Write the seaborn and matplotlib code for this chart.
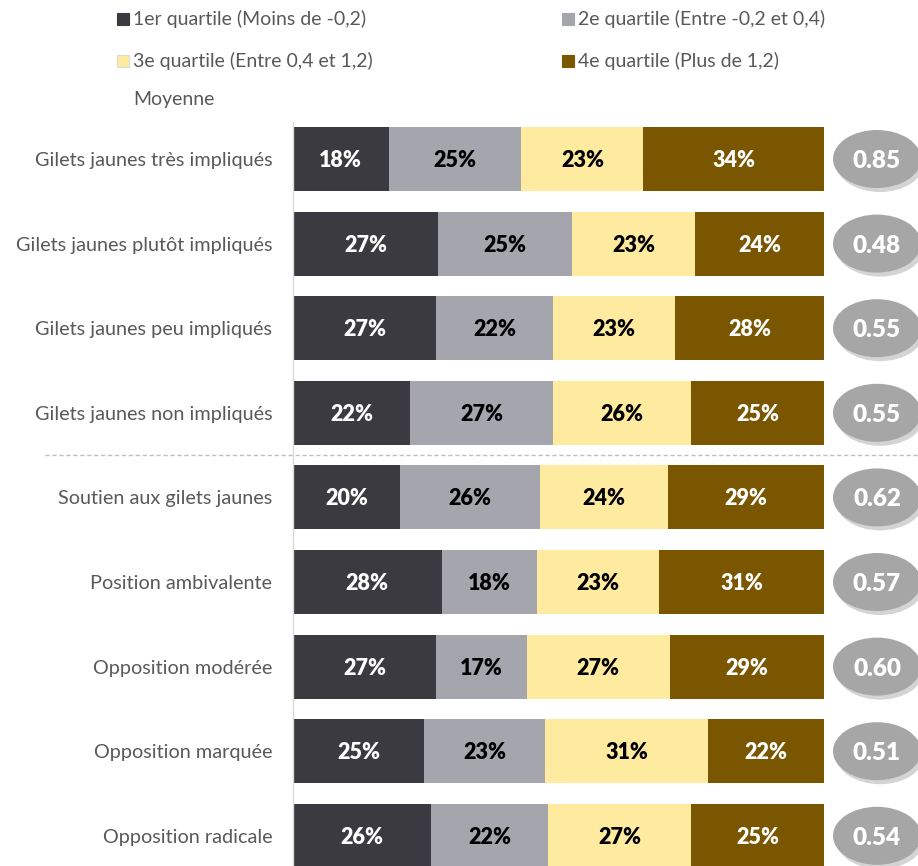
import pandas as pd
import numpy as np
import matplotlib.pyplot as plt
import seaborn as sns
from matplotlib.patches import Ellipse, Rectangle

sns.set_style("white")
plt.rcParams['font.family'] = ['Lato', 'DejaVu Sans']

# donnees
categories = [
    "Gilets jaunes très impliqués",
    "Gilets jaunes plutôt impliqués",
    "Gilets jaunes peu impliqués",
    "Gilets jaunes non impliqués",
    "Soutien aux gilets jaunes",
    "Position ambivalente",
    "Opposition modérée",
    "Opposition marquée",
    "Opposition radicale",
]
q1 = [18, 27, 27, 22, 20, 28, 27, 25, 26]
q2 = [25, 25, 22, 27, 26, 18, 17, 23, 22]
q3 = [23, 23, 23, 26, 24, 23, 27, 31, 27]
q4 = [34, 24, 28, 25, 29, 31, 29, 22, 25]
moyenne = [0.85, 0.48, 0.55, 0.55, 0.62, 0.57, 0.60, 0.51, 0.54]

legend_labels = [
    "1er quartile (Moins de -0,2)",
    "2e quartile (Entre -0,2 et 0,4)",
    "3e quartile (Entre 0,4 et 1,2)",
    "4e quartile (Plus de 1,2)",
]
colors = ["#3b3a40", "#a5a5ad", "#ffeba0", "#7a5600"]
text_colors = ["white", "black", "black", "white"]

df = pd.DataFrame({"cat": categories, "q1": q1, "q2": q2, "q3": q3, "q4": q4})
tot = df[["q1", "q2", "q3", "q4"]].sum(axis=1)
for q in ["q1", "q2", "q3", "q4"]:
    df[q + "_s"] = df[q] / tot
df["c1"] = df["q1_s"]
df["c2"] = df["c1"] + df["q2_s"]
df["c3"] = df["c2"] + df["q3_s"]
df["c4"] = df["c3"] + df["q4_s"]

fig = plt.figure(figsize=(9.18, 8.66), dpi=100)
ax = fig.add_axes([293 / 918, 0, 625 / 918, 744 / 866])

px_x = 531.0   # pixels pour 100 %
px_y = 84.6    # pixels entre deux lignes

for col, c in zip(["c4", "c3", "c2", "c1"], colors[::-1]):
    sns.barplot(data=df, x=col, y="cat", orient="h", color=c, saturation=1,
                width=64 / px_y, linewidth=0, ax=ax)

# etiquettes des segments
cums = ["c1", "c2", "c3", "c4"]
shares = ["q1_s", "q2_s", "q3_s", "q4_s"]
raw = ["q1", "q2", "q3", "q4"]
for i, row in df.iterrows():
    for k in range(4):
        xm = row[cums[k]] - row[shares[k]] / 2
        ax.text(xm, i + 8 / px_y, f"{int(row[raw[k]])}%", ha="center", va="baseline",
                fontsize=15.5, fontweight="heavy", color=text_colors[k])

# ellipses de la moyenne
xc = (877 - 293) / px_x
ew = 88 / px_x
eh = 58 / px_y
for i, m in enumerate(moyenne):
    ax.add_patch(Ellipse((xc + 3 / px_x, i + 4 / px_y), ew, eh,
                         facecolor="#d4d4d4", edgecolor="none", clip_on=False, zorder=3))
    ax.add_patch(Ellipse((xc, i), ew, eh, facecolor="#a6a6a6",
                         edgecolor="none", clip_on=False, zorder=4))
    ax.text(xc, i + 9 / px_y, f"{m:.2f}", ha="center", va="baseline", fontsize=17.5,
            fontweight="heavy", color="white", zorder=5, clip_on=False)

# separateur pointille
ax.plot([-248 / px_x, 625 / px_x], [3.5, 3.5], ls="--", dashes=(3, 2),
        color="#bfbfbf", lw=1, clip_on=False)

ax.set_xlim(0, 625 / px_x)
ax.set_ylim((866 - 159) / px_y, (122 - 159) / px_y)
ax.set_xticks([])
ax.set_xlabel("")
ax.set_ylabel("")
ax.tick_params(axis="y", length=0, pad=15, labelsize=14.3, labelcolor="#595959")
for s in ["top", "right", "bottom"]:
    ax.spines[s].set_visible(False)
ax.spines["left"].set_color("#d9d9d9")
ax.spines["left"].set_linewidth(1)

# legende
pos = [(117, 19), (562, 19), (117, 61), (562, 61)]
for (x, y), c, lab in zip(pos, colors, legend_labels):
    fig.patches.append(Rectangle((x / 918, 1 - (y + 6) / 866), 12 / 918, 12 / 866,
                                 transform=fig.transFigure, facecolor=c,
                                 edgecolor="#d9d9d9" if c == "#ffeba0" else c, lw=0.8))
    fig.text((x + 16) / 918, 1 - y / 866, lab, ha="left", va="center",
             fontsize=14, color="#595959")
fig.text(133 / 918, 1 - 100 / 866, "Moyenne", ha="left", va="center",
         fontsize=14, color="#595959")

fig.savefig("out.png", dpi=100)
